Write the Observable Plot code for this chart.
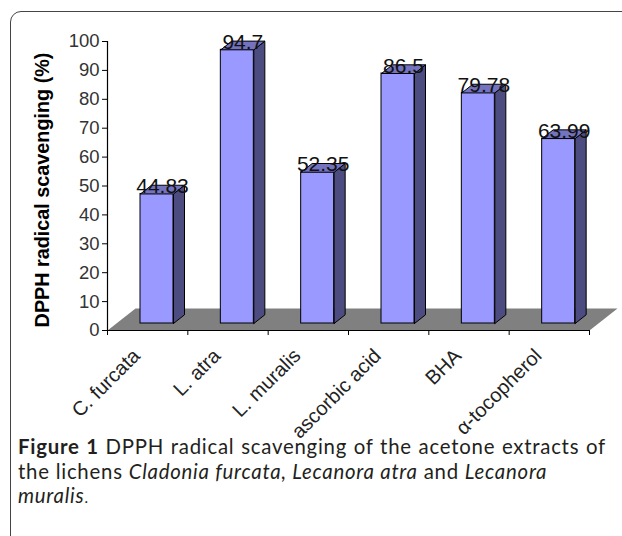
<!DOCTYPE html>
<html><head><meta charset="utf-8">
<script src="https://cdn.jsdelivr.net/npm/d3@7"></script>
<script src="https://cdn.jsdelivr.net/npm/@observablehq/plot@0.6"></script>
<style>
body{margin:0;background:#fff;width:622px;height:536px;overflow:hidden;position:relative;}
#frame{position:absolute;left:10px;top:11px;width:700px;height:600px;border:1.5px solid #444;border-radius:11px;box-sizing:border-box;}
#chart{position:absolute;left:0;top:0;}
#caption{position:absolute;left:18px;top:434px;width:588px;font-family:Lato,"Open Sans",sans-serif;font-size:20.4px;line-height:24.5px;letter-spacing:0.75px;color:#231f20;}
#caption div{white-space:nowrap;}
#caption .j{text-align:justify;text-align-last:justify;}
</style></head><body>
<div id="frame"></div>
<div id="chart"></div>
<div id="caption">
<div class="j"><b>Figure 1</b> DPPH radical scavenging of the acetone extracts of</div>
<div>the lichens <i>Cladonia furcata, Lecanora atra</i> and <i>Lecanora</i></div>
<div><i>muralis</i><span style="font-size:15px">.</span></div>
</div>
<script>
const categories = ["C. furcata", "L. atra", "L. muralis", "ascorbic acid", "BHA", "α-tocopherol"];
const values = [44.83, 94.7, 52.35, 86.5, 79.78, 63.99];
const valueLabels = ["44.83", "94.7", "52.35", "86.5", "79.78", "63.99"];
const yTicks = [0, 10, 20, 30, 40, 50, 60, 70, 80, 90, 100];
const yTitle = "DPPH radical scavenging (%)";

// layout (pixels)
const W = 622, H = 470, mL = 107, mR = 33, mT = 41, mB = 140;
const kx = (W - mL - mR) / categories.length;
const ky = (H - mT - mB) / 100;
// 3D geometry in pixels, converted to data units
const floorDx = 28 / kx, floorDy = 22 / ky;
const barL = 33 / kx, barR = 66 / kx, base = 7 / ky;
const depX = 11 / kx, depY = 8.7 / ky;

const n = categories.length;
const floor = [[0, 0], [n, 0], [n + floorDx, floorDy], [floorDx, floorDy], [0, 0]].map(([x, y]) => ({x, y}));

const bars = values.map((v, i) => ({i, v, x1: i + barL, x2: i + barR, y1: base, y2: base + v}));
const sides = bars.flatMap(b => [
  [b.x2, b.y1], [b.x2 + depX, b.y1 + depY], [b.x2 + depX, b.y2 + depY], [b.x2, b.y2], [b.x2, b.y1]
].map(([x, y]) => ({x, y, id: b.i})));
const tops = bars.flatMap(b => [
  [b.x1, b.y2], [b.x2, b.y2], [b.x2 + depX, b.y2 + depY], [b.x1 + depX, b.y2 + depY], [b.x1, b.y2]
].map(([x, y]) => ({x, y, id: b.i})));

const chart = Plot.plot({
  width: W, height: H,
  marginLeft: mL, marginRight: mR, marginTop: mT, marginBottom: mB,
  style: {fontFamily: "'Liberation Sans', Arial, sans-serif", color: "#222", background: "transparent"},
  x: {domain: [0, n], axis: null},
  y: {domain: [0, 100], axis: null},
  marks: [
    Plot.line(floor, {x: "x", y: "y", fill: "#808080", stroke: "none"}),
    Plot.ruleX([0], {stroke: "#000", strokeWidth: 1.2}),
    Plot.ruleY([0], {stroke: "#000", strokeWidth: 1.2}),
    Plot.axisY({ticks: yTicks, tickSize: 5, tickPadding: 3, fontSize: 18.5, stroke: "#000", fill: "#333", label: null}),
    Plot.axisX({ticks: d3.range(0, n + 1), tickSize: 5, tickFormat: () => "", stroke: "#000", label: null}),
    Plot.rect(bars, {x1: "x1", x2: "x2", y1: "y1", y2: "y2", fill: "#9999FF", stroke: "#000", strokeWidth: 1}),
    Plot.line(sides, {x: "x", y: "y", z: "id", fill: "#4C4C80", stroke: "#000", strokeWidth: 1}),
    Plot.line(tops, {x: "x", y: "y", z: "id", fill: "#7373C0", stroke: "#000", strokeWidth: 1}),
    Plot.text(values, {x: (d, i) => i + 55 / kx, y: d => d + base, text: (d, i) => valueLabels[i], lineAnchor: "bottom", dy: -1, fontSize: 21, fill: "#111"}),
    Plot.text(categories, {x: (d, i) => i + 0.5, y: 0, text: d => d, rotate: -45, textAnchor: "end", dx: -11, dy: 22, fontSize: 20, fill: "#222"}),
    Plot.text([yTitle], {frameAnchor: "left", textAnchor: "middle", dx: -65, dy: 4, rotate: -90, text: d => d, fontWeight: "bold", fontSize: 19.8, fill: "#000"})
  ]
});
document.getElementById("chart").appendChild(chart);
</script>
</body></html>
